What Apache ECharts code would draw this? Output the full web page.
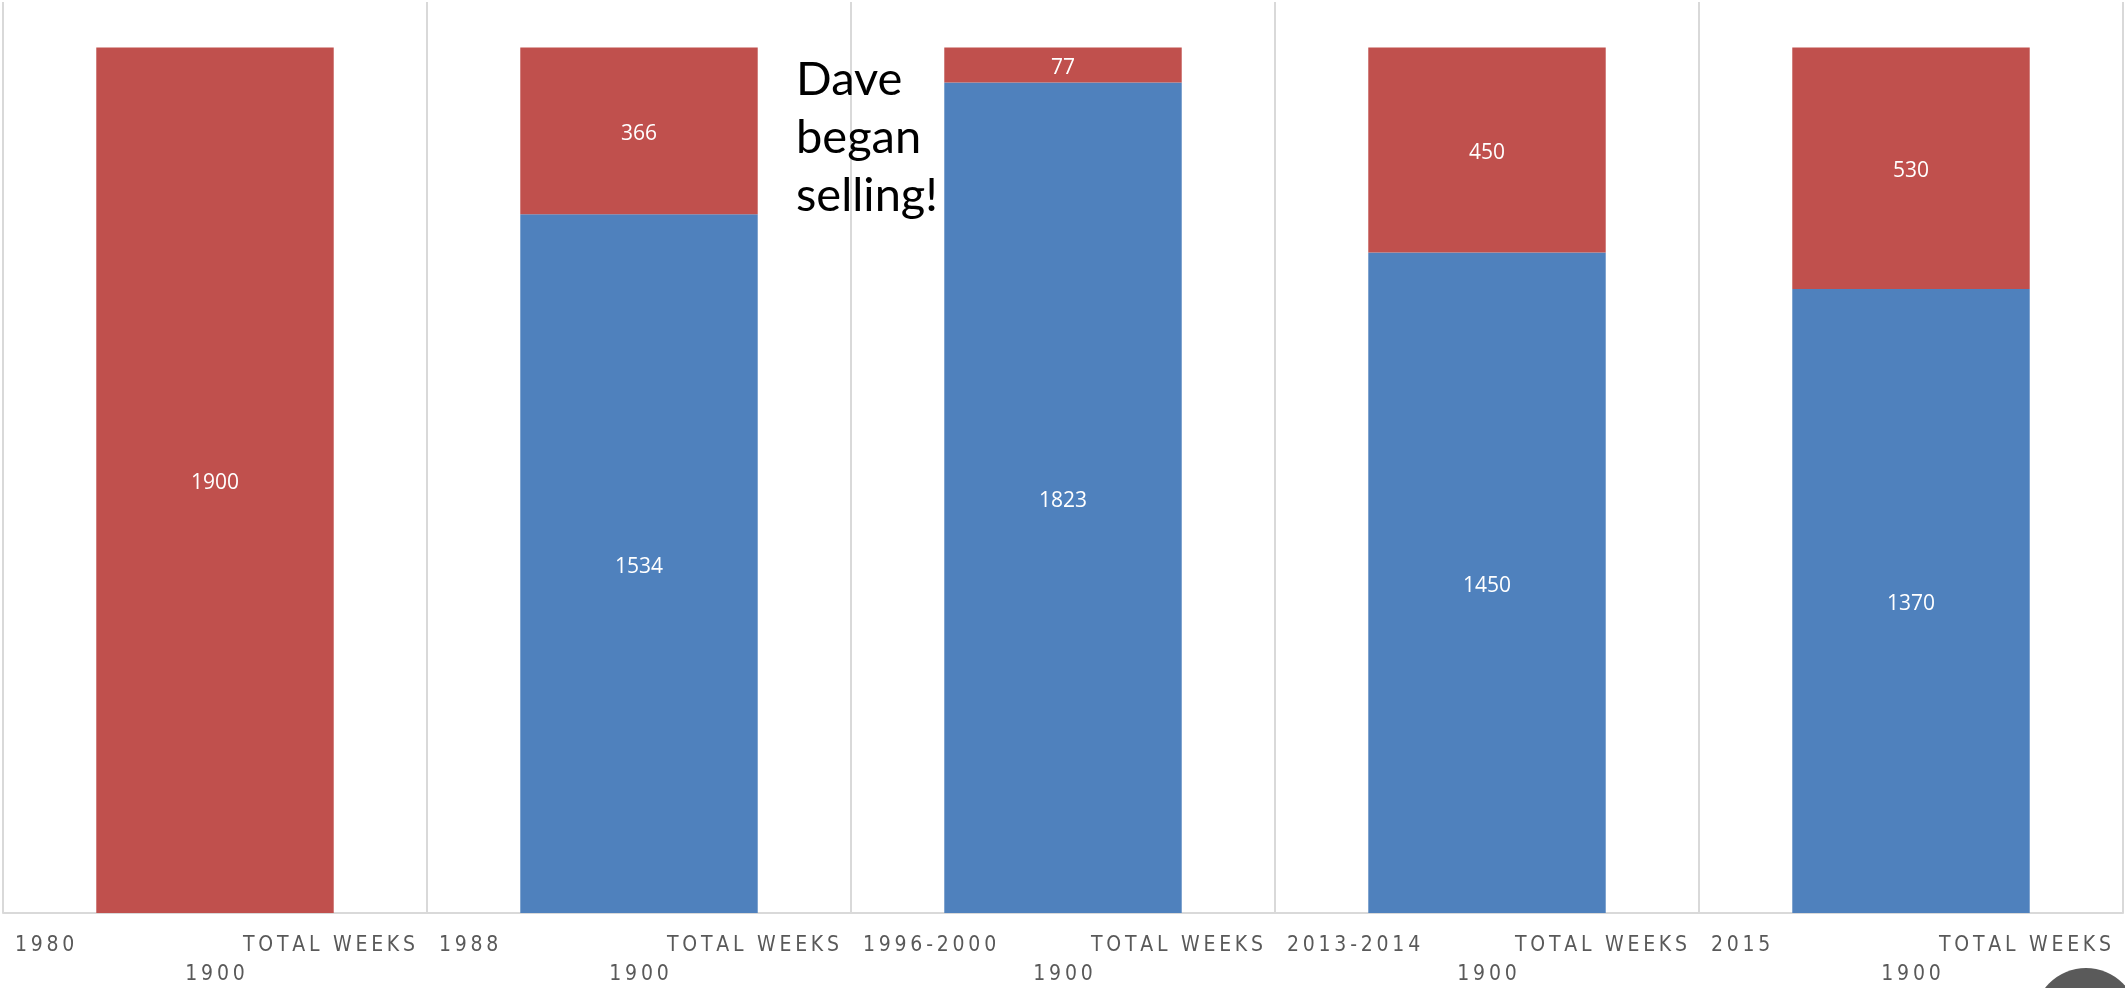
<!DOCTYPE html>
<html>
<head>
<meta charset="utf-8">
<script src="https://cdn.jsdelivr.net/npm/echarts@6/dist/echarts.min.js"></script>
<style>
  html, body { margin: 0; padding: 0; background: #fff; }
  #main { width: 2125px; height: 988px; }
</style>
</head>
<body>
<div id="main"></div>
<script>
// periods on the x axis
var periods = ['1980', '1988', '1996-2000', '2013-2014', '2015'];
// weeks Dave was selling (blue) and the rest (red)
var daveWeeks = [null, 1534, 1823, 1450, 1370];
var otherWeeks = [1900, 366, 77, 450, 530];
var totalWeeks = [1900, 1900, 1900, 1900, 1900];

var BLUE = '#4F81BD';
var RED = '#C0504D';
var GRID_LINE = '#d9d9d9';
var AXIS_FONT = '"DejaVu Sans Condensed", Roboto, sans-serif';

// spread letters a bit, the original labels are letter-spaced
function spaced(s) {
    return s.split('').join('\u2009');
}

var myChart = echarts.init(document.getElementById('main'));

var option = {
    backgroundColor: '#fff',
    animation: false,
    grid: { left: 3, right: 2, top: 2, bottom: 75 },
    xAxis: {
        type: 'category',
        data: periods,
        axisLine: { show: true, lineStyle: { color: GRID_LINE, width: 2 } },
        axisTick: { show: false },
        splitLine: { show: true, lineStyle: { color: GRID_LINE, width: 2 } },
        axisLabel: {
            margin: 18,
            interval: 0,
            formatter: function (value, idx) {
                return '{a|' + spaced(value) + '}{b|' + spaced('TOTAL WEEKS') + '}\n{c|' + spaced(String(totalWeeks[idx])) + '}';
            },
            rich: {
                a: { width: 200, align: 'left', fontSize: 21, lineHeight: 29, color: '#595959', fontFamily: AXIS_FONT },
                b: { width: 200, align: 'right', fontSize: 21, lineHeight: 29, color: '#595959', fontFamily: AXIS_FONT },
                c: { width: 400, align: 'center', fontSize: 21, lineHeight: 29, color: '#595959', fontFamily: AXIS_FONT }
            }
        }
    },
    yAxis: {
        type: 'value',
        min: 0,
        max: 2000,
        show: false,
        splitLine: { show: false }
    },
    series: [
        {
            name: 'Dave',
            type: 'bar',
            stack: 'weeks',
            barWidth: '56%',
            data: daveWeeks,
            itemStyle: { color: BLUE },
            label: {
                show: true,
                position: 'inside',
                offset: [0, 3],
                color: '#fff',
                fontSize: 21,
                fontFamily: 'Open Sans'
            }
        },
        {
            name: 'Other',
            type: 'bar',
            stack: 'weeks',
            barWidth: '56%',
            data: otherWeeks,
            itemStyle: { color: RED },
            label: {
                show: true,
                position: 'inside',
                offset: [0, 3],
                color: '#fff',
                fontSize: 21,
                fontFamily: 'Open Sans'
            }
        }
    ],
    graphic: [
        {
            type: 'text',
            left: 796,
            top: 51,
            z: 100,
            style: {
                text: 'Dave\nbegan\nselling!',
                font: '47px Lato',
                lineHeight: 58,
                fill: '#000'
            }
        },
        {
            type: 'circle',
            shape: { cx: 2086, cy: 1020, r: 52 },
            style: { fill: '#5a5a5a' },
            z: 100
        }
    ]
};

myChart.setOption(option);
</script>
</body>
</html>
